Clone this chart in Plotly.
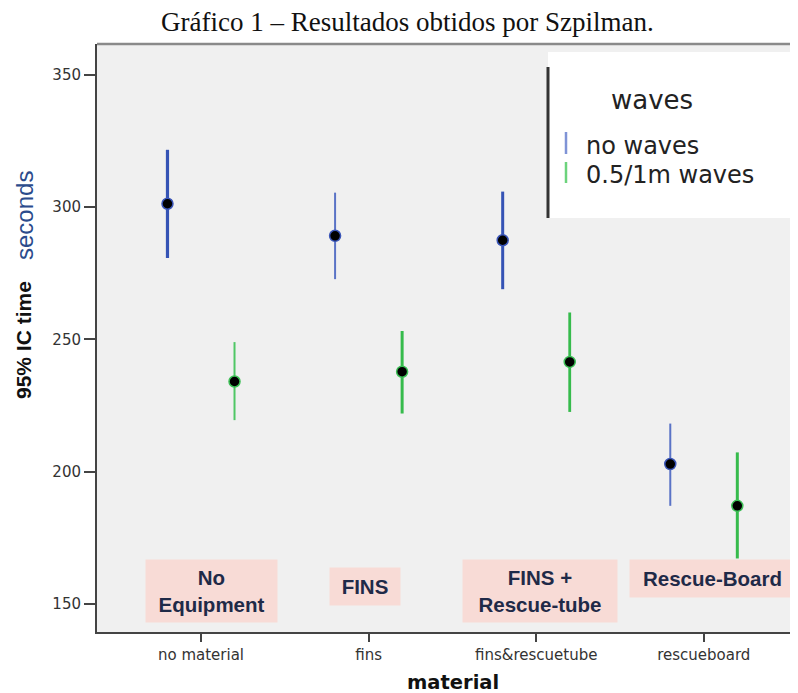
import plotly.graph_objects as go

# ---------------- data ----------------
categories = ["no material", "fins", "fins&rescuetube", "rescueboard"]
series_names = ["no waves", "0.5/1m waves"]

no_waves_mean = [301.3, 289.2, 287.5, 202.9]
no_waves_low = [280.8, 272.8, 269.0, 187.1]
no_waves_high = [321.7, 305.5, 305.9, 218.2]

waves_mean = [234.1, 237.8, 241.5, 187.1]
waves_low = [219.5, 222.0, 222.6, 167.2]
waves_high = [249.0, 253.2, 260.2, 207.3]

box_labels = ["No<br>Equipment", "FINS", "FINS +<br>Rescue-tube", "Rescue-Board"]
y_ticks = [150, 200, 250, 300, 350]

# ---------------- styling / layout constants ----------------
PAGE_OFF = 8  # default body margin of the html page
W, H = 798 - PAGE_OFF, 693 - PAGE_OFF
L, R, T, B = 97 - PAGE_OFF, 0, 44 - PAGE_OFF, 61
PW, PH = W - L - R, H - T - B
CAT0_PX, CAT_STEP = 201.0, 167.6
OFFSET = 0.2

def px_x(px):
    # px: horizontal position in page pixels
    return (px - PAGE_OFF - L) / PW

def px_y(py):
    return (H - B - (py - PAGE_OFF)) / PH

x_range = [(97 - CAT0_PX) / CAT_STEP, (798 - CAT0_PX) / CAT_STEP]
y_range = [139.4, 361.7]

blue_thick, blue_thin = "#3553b5", "#5a73c6"
green_thick, green_thin = "#36bb4c", "#4fc765"
# per-point line thickness as seen in the picture
blue_w = [3.2, 2.0, 3.0, 2.0]
green_w = [2.0, 3.0, 2.8, 3.0]

fig = go.Figure()

def add_series(means, lows, highs, widths, offset, col_thick, col_thin, glow):
    for i, (m, lo, hi, w) in enumerate(zip(means, lows, highs, widths)):
        col = col_thick if w >= 2.5 else col_thin
        fig.add_trace(go.Scatter(
            x=[i + offset], y=[m], mode="markers",
            marker=dict(color="black", size=11, line=dict(color=glow, width=1.5)),
            error_y=dict(type="data", symmetric=False, array=[hi - m],
                         arrayminus=[m - lo], width=0, thickness=w, color=col),
            showlegend=False, hoverinfo="skip"))

add_series(no_waves_mean, no_waves_low, no_waves_high, blue_w, -OFFSET,
           blue_thick, blue_thin, "#3a55b8")
add_series(waves_mean, waves_low, waves_high, green_w, OFFSET,
           green_thick, green_thin, "#3cbf55")

shapes = []
annotations = []

# pink category boxes (page-pixel geometry: center x, center y, width, height)
box_geom = [(211.5, 591, 131, 62), (365, 586.5, 70, 37),
            (540, 591, 154, 62), (712.5, 578.5, 165, 37)]
for lab, (cx, cy, bw, bh) in zip(box_labels, box_geom):
    annotations.append(dict(
        xref="paper", yref="paper", x=px_x(cx), y=px_y(cy),
        xanchor="center", yanchor="middle", text="<b>" + lab + "</b>",
        showarrow=False, width=bw, height=bh, bgcolor="#f8dbd6",
        font=dict(family="Liberation Sans, Arial", size=20.5, color="#1f2a48"),
        align="center", valign="middle", borderpad=0))

# legend box
shapes.append(dict(type="rect", xref="paper", yref="paper",
                   x0=px_x(548), x1=px_x(791), y0=px_y(218), y1=px_y(52),
                   fillcolor="white", line=dict(width=0), layer="above"))
shapes.append(dict(type="line", xref="paper", yref="paper",
                   x0=px_x(548), x1=px_x(548), y0=px_y(218), y1=px_y(67),
                   line=dict(color="#333333", width=3), layer="above"))
shapes.append(dict(type="line", xref="paper", yref="paper",
                   x0=px_x(566), x1=px_x(566), y0=px_y(154), y1=px_y(132),
                   line=dict(color="#7f93d6", width=2.5), layer="above"))
shapes.append(dict(type="line", xref="paper", yref="paper",
                   x0=px_x(566), x1=px_x(566), y0=px_y(183), y1=px_y(162),
                   line=dict(color="#6cd37c", width=2.5), layer="above"))
# top frame line
shapes.append(dict(type="line", xref="paper", yref="paper",
                   x0=0, x1=1, y0=1, y1=1,
                   line=dict(color="#8a8a8a", width=2.5), layer="above"))

annotations.append(dict(xref="paper", yref="paper", x=px_x(652), y=px_y(100),
                        text="waves", showarrow=False, xanchor="center", yanchor="middle",
                        font=dict(family="DejaVu Sans", size=26, color="#222222")))
annotations.append(dict(xref="paper", yref="paper", x=px_x(584), y=px_y(146),
                        text=series_names[0], showarrow=False, xanchor="left", yanchor="middle",
                        font=dict(family="DejaVu Sans", size=24, color="#222222")))
annotations.append(dict(xref="paper", yref="paper", x=px_x(584), y=px_y(175),
                        text=series_names[1], showarrow=False, xanchor="left", yanchor="middle",
                        font=dict(family="DejaVu Sans", size=24, color="#222222")))

# y axis title (two parts)
annotations.append(dict(xref="paper", yref="paper", x=px_x(23), y=px_y(340),
                        textangle=-90, showarrow=False, xanchor="center", yanchor="middle",
                        text="<b>95% IC time</b>",
                        font=dict(family="Liberation Sans, Arial", size=21, color="#111111")))
annotations.append(dict(xref="paper", yref="paper", x=px_x(24), y=px_y(216),
                        textangle=-90, showarrow=False, xanchor="center", yanchor="middle",
                        text="seconds",
                        font=dict(family="Liberation Sans, Arial", size=24, color="#2b4b8c")))
# x axis title
annotations.append(dict(xref="paper", yref="paper", x=px_x(453), y=px_y(682),
                        text="<b>material</b>", showarrow=False, xanchor="center", yanchor="middle",
                        font=dict(family="DejaVu Sans", size=19.5, color="#111111")))
# figure title
annotations.append(dict(xref="paper", yref="paper", x=px_x(407), y=px_y(22),
                        text="Gráfico 1 – Resultados obtidos por Szpilman.", showarrow=False,
                        xanchor="center", yanchor="middle",
                        font=dict(family="Liberation Serif, Times New Roman", size=27, color="#111111")))

fig.update_layout(
    width=W, height=H, margin=dict(l=L, r=R, t=T, b=B, pad=0),
    paper_bgcolor="white", plot_bgcolor="#f0f0f0",
    shapes=shapes, annotations=annotations, showlegend=False,
    xaxis=dict(range=x_range, tickmode="array", tickvals=list(range(len(categories))),
               ticktext=categories, showgrid=False, zeroline=False,
               showline=True, linecolor="#444444", linewidth=2,
               ticks="outside", ticklen=8, tickwidth=2, tickcolor="#444444",
               tickfont=dict(family="DejaVu Sans", size=15, color="#333333"),
               fixedrange=True),
    yaxis=dict(range=y_range, tickmode="array", tickvals=y_ticks,
               showgrid=False, zeroline=False,
               showline=True, linecolor="#444444", linewidth=2,
               ticks="outside", ticklen=11, tickwidth=2, tickcolor="#444444",
               tickfont=dict(family="DejaVu Sans", size=15, color="#333333"),
               fixedrange=True),
)

fig.write_html("out.html")
